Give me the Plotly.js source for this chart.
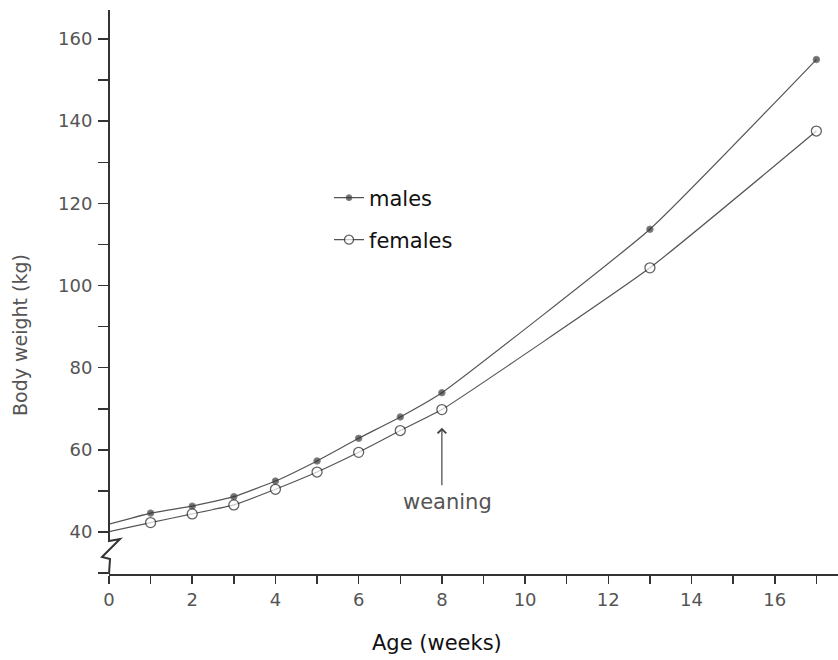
<!DOCTYPE html>
<html>
<head>
<meta charset="utf-8">
<script src="https://cdn.plot.ly/plotly-3.0.1.min.js"></script>
<style>html,body{margin:0;padding:0;background:#fff}#chart{width:838px;height:660px}</style>
</head>
<body>
<div id="chart"></div>
<script>
// Age in weeks (week 0 = start of the drawn lines, no marker)
const weeks = [0, 1, 2, 3, 4, 5, 6, 7, 8, 13, 17];
const malesKg = [41.9, 44.6, 46.3, 48.6, 52.4, 57.3, 62.8, 68.0, 73.9, 113.7, 155.0];
const femalesKg = [40.1, 42.3, 44.4, 46.6, 50.4, 54.6, 59.4, 64.7, 69.8, 104.3, 137.6];
const seriesNames = ['males', 'females'];
const weaningWeek = 8;
const weaningLabel = 'weaning';
const xTitle = 'Age (weeks)';
const yTitle = 'Body weight (kg)';

const markerSizesM = weeks.map(w => w === 0 ? 0 : 6.5);
const markerSizesF = weeks.map(w => w === 0 ? 0 : 10);

const traces = [
  {
    x: weeks, y: malesKg, name: seriesNames[0], type: 'scatter', mode: 'lines+markers',
    line: {color: '#555', width: 1.2, shape: 'spline', smoothing: 0.4},
    marker: {size: markerSizesM, color: '#333', symbol: 'circle'},
    legend: 'legend'
  },
  {
    x: weeks, y: femalesKg, name: seriesNames[1], type: 'scatter', mode: 'lines+markers',
    line: {color: '#555', width: 1.2, shape: 'spline', smoothing: 0.4},
    marker: {size: markerSizesF, color: '#fff', symbol: 'circle', line: {color: '#222', width: 1.3}},
    legend: 'legend2'
  }
];

const font = {family: 'DejaVu Sans, sans-serif', color: '#555', size: 18};

const layout = {
  width: 838, height: 660,
  margin: {l: 109, r: 0, t: 10, b: 86},
  paper_bgcolor: '#fff', plot_bgcolor: '#fff',
  font: font,
  xaxis: {
    range: [0, 17.52], showgrid: false, zeroline: false,
    showline: true, linecolor: '#333', linewidth: 2,
    ticks: 'outside', ticklen: 8, tickwidth: 1.5, tickcolor: '#333',
    tick0: 0, dtick: 2,
    minor: {dtick: 1, ticks: 'outside', ticklen: 8, tickwidth: 1.5, tickcolor: '#333'},
    tickfont: {size: 18, color: '#555'},
    fixedrange: true
  },
  yaxis: {
    range: [29.78, 167.06], showgrid: false, zeroline: false,
    showline: false,
    ticks: 'outside', ticklen: 10, tickwidth: 1.5, tickcolor: '#333',
    tick0: 40, dtick: 20,
    minor: {dtick: 10, ticks: 'outside', ticklen: 10, tickwidth: 1.5, tickcolor: '#333'},
    tickfont: {size: 18, color: '#555'},
    ticklabelstandoff: 2,
    fixedrange: true
  },
  showlegend: true,
  legend: {
    x: (329 - 109) / 729, y: (574 - 198) / 564, xanchor: 'left', yanchor: 'middle',
    bgcolor: 'rgba(0,0,0,0)', borderwidth: 0,
    font: {family: 'DejaVu Sans, sans-serif', size: 21, color: '#111'}
  },
  legend2: {
    x: (329 - 109) / 729, y: (574 - 240) / 564, xanchor: 'left', yanchor: 'middle',
    bgcolor: 'rgba(0,0,0,0)', borderwidth: 0,
    font: {family: 'DejaVu Sans, sans-serif', size: 21, color: '#111'}
  },
  annotations: [
    {
      x: weaningWeek, y: 65.4, xref: 'x', yref: 'y', text: '',
      showarrow: true, arrowhead: 4, arrowsize: 1.4, arrowwidth: 1.2, arrowcolor: '#444',
      ax: 0, ay: 59
    },
    {
      x: weaningWeek, y: 65.4, xref: 'x', yref: 'y', text: weaningLabel,
      showarrow: false, xshift: 6, yshift: -74, xanchor: 'center', yanchor: 'middle',
      font: {family: 'DejaVu Sans, sans-serif', size: 21, color: '#555'}
    },
    {
      x: (437 - 109) / 729, y: (574 - 643) / 564, xref: 'paper', yref: 'paper',
      text: xTitle, showarrow: false, xanchor: 'center', yanchor: 'middle',
      font: {family: 'DejaVu Sans, sans-serif', size: 21, color: '#111'}
    },
    {
      x: (20 - 109) / 729, y: (574 - 335) / 564, xref: 'paper', yref: 'paper',
      text: yTitle, showarrow: false, textangle: -90, xanchor: 'center', yanchor: 'middle',
      font: {family: 'DejaVu Sans, sans-serif', size: 19, color: '#555'}
    }
  ],
  shapes: [
    {
      type: 'path', xref: 'paper', yref: 'paper',
      path: 'M 0 1 L 0 0.0585 L 0.0151 0.062 L -0.0096 0.0301 L 0.0014 0.0266 L 0 0',
      line: {color: '#333', width: 2}
    }
  ]
};

Plotly.newPlot('chart', traces, layout, {displayModeBar: false, staticPlot: true});
</script>
</body>
</html>
